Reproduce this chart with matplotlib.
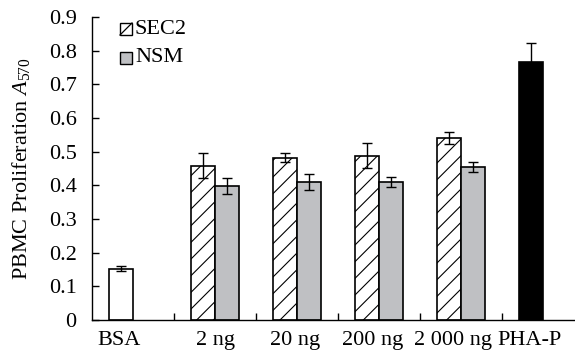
import matplotlib
matplotlib.use('Agg')
import matplotlib.pyplot as plt
from matplotlib.patches import Rectangle
from matplotlib.lines import Line2D
import numpy as np

plt.rcParams['font.family'] = 'Liberation Serif'
plt.rcParams['mathtext.fontset'] = 'custom'
plt.rcParams['mathtext.rm'] = 'Liberation Serif'
plt.rcParams['mathtext.it'] = 'Liberation Serif:italic'
plt.rcParams['hatch.linewidth'] = 0.8

categories = ['BSA', '2 ng', '20 ng', '200 ng', '2 000 ng', 'PHA-P']
sec2 = [0.458, 0.482, 0.488, 0.540]
sec2_err = [0.037, 0.013, 0.037, 0.018]
nsm = [0.398, 0.411, 0.411, 0.454]
nsm_err = [0.024, 0.024, 0.015, 0.014]
bsa, bsa_err = 0.152, 0.007
pha, pha_err = 0.766, 0.057

fs = 16
w = 0.29
gray = '#bfc0c3'
x = np.arange(len(categories))
xd = x[1:5]

W, H = 575, 354
fig = plt.figure(figsize=(W / 100, H / 100), dpi=100)
ax = fig.add_axes([92 / W, 34 / H, 492 / W, 303 / H])

ekw = dict(ecolor='black', elinewidth=1, capsize=3.5, capthick=1)
ax.bar(x[0] - w / 2, bsa, w, yerr=bsa_err, color='white', edgecolor='black', lw=1.2, error_kw=ekw)
ax.bar(xd - w / 2, sec2, w, yerr=sec2_err, color='white', edgecolor='black', lw=1.2, hatch='//',
       error_kw=ekw)
ax.bar(xd + w / 2, nsm, w, yerr=nsm_err, color=gray, edgecolor='black', lw=1.2, error_kw=ekw)
ax.bar(x[5] - w / 2, pha, w, yerr=pha_err, color='black', edgecolor='black', lw=1.2, error_kw=ekw)

ax.set_xlim(-0.5, 5.5)
ax.set_ylim(0, 0.9)
ax.spines['top'].set_visible(False)
ax.spines['right'].set_visible(False)
ax.spines['left'].set_linewidth(1)
ax.spines['bottom'].set_linewidth(1)

ax.set_yticks(np.arange(0, 0.91, 0.1))
ax.set_yticklabels(['0'] + ['%.1f' % v for v in np.arange(0.1, 0.91, 0.1)], fontsize=fs)
ax.tick_params(axis='y', direction='in', length=5, width=1, pad=11)

ax.set_xticks(np.arange(0.5, 5, 1.0))
ax.set_xticklabels([])
ax.tick_params(axis='x', direction='in', length=5, width=1)
label_x = [-0.17, 1.0, 1.98, 2.92, 3.9, 4.83]
for lx, name in zip(label_x, categories):
    ax.text(lx, -0.035, name, ha='center', va='top', fontsize=fs,
            transform=ax.get_xaxis_transform())

ax.set_ylabel('PBMC Proliferation $\\mathit{A}_{570}$', fontsize=fs, labelpad=12)

# legend, drawn by hand (small boxes, single diagonal in the SEC2 box)
def px(xp, yp):
    return xp / W, 1 - yp / H

for (top, face, name) in [(23, 'white', 'SEC2'), (52, gray, 'NSM')]:
    x0, y0 = px(120, top + 12)
    fig.add_artist(Rectangle((x0, y0), 12 / W, 12 / H, transform=fig.transFigure,
                             facecolor=face, edgecolor='black', lw=1))
    if face == 'white':
        xa, ya = px(120, top + 12)
        xb, yb = px(132, top)
        fig.add_artist(Line2D([xa, xb], [ya, yb], transform=fig.transFigure, color='black', lw=0.9))
    tx, ty = px(135, top + 6)
    fig.text(tx, ty, name, fontsize=fs, va='center', ha='left')

fig.savefig('out.png', dpi=100)
